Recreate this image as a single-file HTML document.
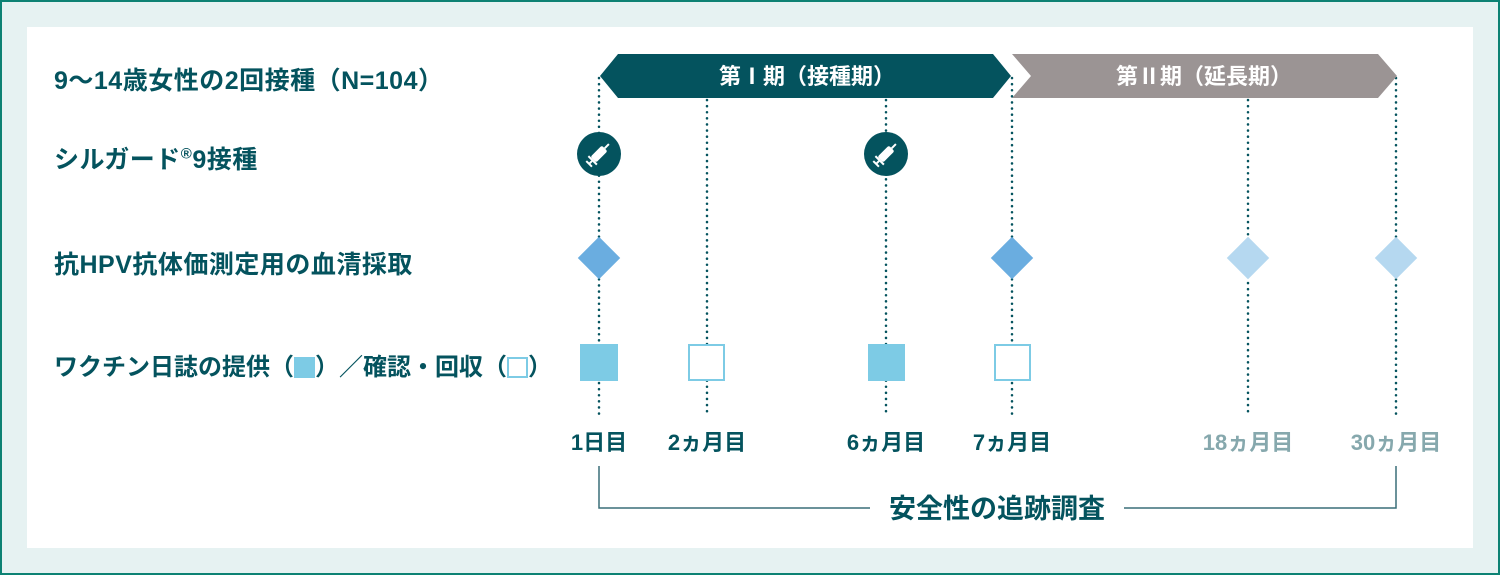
<!DOCTYPE html>
<html><head><meta charset="utf-8"><style>
body{margin:0;width:1500px;height:575px;overflow:hidden;background:#e6f2f2;font-family:"Liberation Sans","Noto Sans CJK JP",sans-serif;}
.frame{position:absolute;left:0;top:0;width:1496px;height:571px;border:2px solid #0d8274;background:#e6f2f2;}
.inner{position:absolute;left:27px;top:27px;width:1446px;height:521px;background:#fff;}
.t{position:absolute;font-weight:bold;color:#04535e;white-space:nowrap;font-size:25px;letter-spacing:0.5px;}
</style></head><body>
<div class="frame"></div>
<div class="inner"></div>
<div class="t" style="left:54px;top:61px;">9～14歳女性の2回接種（N=104）</div>
<div class="t" style="left:54px;top:140px;">シルガード<sup style="font-size:15px">®</sup>9接種</div>
<div class="t" style="left:54px;top:245px;">抗HPV抗体価測定用の血清採取</div>
<div class="t" style="left:54px;top:347px;font-size:24px;letter-spacing:0;">ワクチン日誌の提供（<span style="display:inline-block;width:21px;height:21px;background:#7dcbe5;vertical-align:-3px"></span>）／確認・回収（<span style="display:inline-block;width:17px;height:17px;border:2px solid #7dcbe5;vertical-align:-3px"></span>）</div>
<svg width="1500" height="575" style="position:absolute;left:0;top:0">
<g stroke="#04535e" stroke-width="2.5" stroke-dasharray="0.1 6" stroke-linecap="round" fill="none">
<line x1="599" y1="78" x2="599" y2="417"/>
<line x1="707" y1="100" x2="707" y2="417"/>
<line x1="886" y1="100" x2="886" y2="417"/>
<line x1="1012" y1="78" x2="1012" y2="417"/>
<line x1="1248" y1="100" x2="1248" y2="417"/>
<line x1="1396" y1="78" x2="1396" y2="417"/>
</g>
<polygon points="1012,54 1378,54 1397,76 1378,98 1012,98 1031,76" fill="#9b9494"/>
<polygon points="618,54 993,54 1011,76 993,98 618,98 600,76" fill="#04535e"/>
<text x="807" y="84" fill="#fff" font-size="22" font-weight="bold" text-anchor="middle" font-family="Liberation Sans, Noto Sans CJK JP, sans-serif">第Ⅰ期（接種期）</text>
<text x="1204" y="84" fill="#fff" font-size="22" font-weight="bold" text-anchor="middle" font-family="Liberation Sans, Noto Sans CJK JP, sans-serif">第Ⅱ期（延長期）</text>
<g id="s"><circle cx="599" cy="154" r="22" fill="#04535e"/>
<g transform="translate(599,154) rotate(45)" fill="#fff"><rect x="-4" y="-8" width="8" height="16" rx="2"/><rect x="-1" y="-14" width="2" height="6"/><rect x="-6" y="8" width="12" height="2"/><rect x="-1" y="10" width="2" height="4"/><rect x="-4" y="13" width="8" height="2"/></g></g>
<use href="#s" x="287"/>
<g>
<rect x="584" y="243" width="30" height="30" fill="#6aade0" transform="rotate(45 599 258)"/>
<rect x="997" y="243" width="30" height="30" fill="#6aade0" transform="rotate(45 1012 258)"/>
<rect x="1233" y="243" width="30" height="30" fill="#b5d8f0" transform="rotate(45 1248 258)"/>
<rect x="1381" y="243" width="30" height="30" fill="#b5d8f0" transform="rotate(45 1396 258)"/>
</g>
<rect x="580" y="344" width="38" height="37" fill="#7dcbe5"/>
<rect x="868" y="344" width="37" height="37" fill="#7dcbe5"/>
<rect x="689" y="345" width="35" height="35" fill="#fff" stroke="#7dcbe5" stroke-width="2"/>
<rect x="995" y="345" width="35" height="35" fill="#fff" stroke="#7dcbe5" stroke-width="2"/>
<polyline points="599,466 599,508 870,508" fill="none" stroke="#3a6f78" stroke-width="1.5"/>
<polyline points="1124,508 1396,508 1396,466" fill="none" stroke="#3a6f78" stroke-width="1.5"/>
<g font-family="Liberation Sans, Noto Sans CJK JP, sans-serif" font-weight="bold" font-size="22" text-anchor="middle">
<text x="599" y="450" fill="#04535e">1日目</text>
<text x="707" y="450" fill="#04535e">2ヵ月目</text>
<text x="886" y="450" fill="#04535e">6ヵ月目</text>
<text x="1012" y="450" fill="#04535e">7ヵ月目</text>
<text x="1248" y="450" fill="#86a8ad">18ヵ月目</text>
<text x="1396" y="450" fill="#86a8ad">30ヵ月目</text>
<text x="997" y="518" fill="#04535e" font-size="27">安全性の追跡調査</text>
</g>
</svg>
</body></html>
